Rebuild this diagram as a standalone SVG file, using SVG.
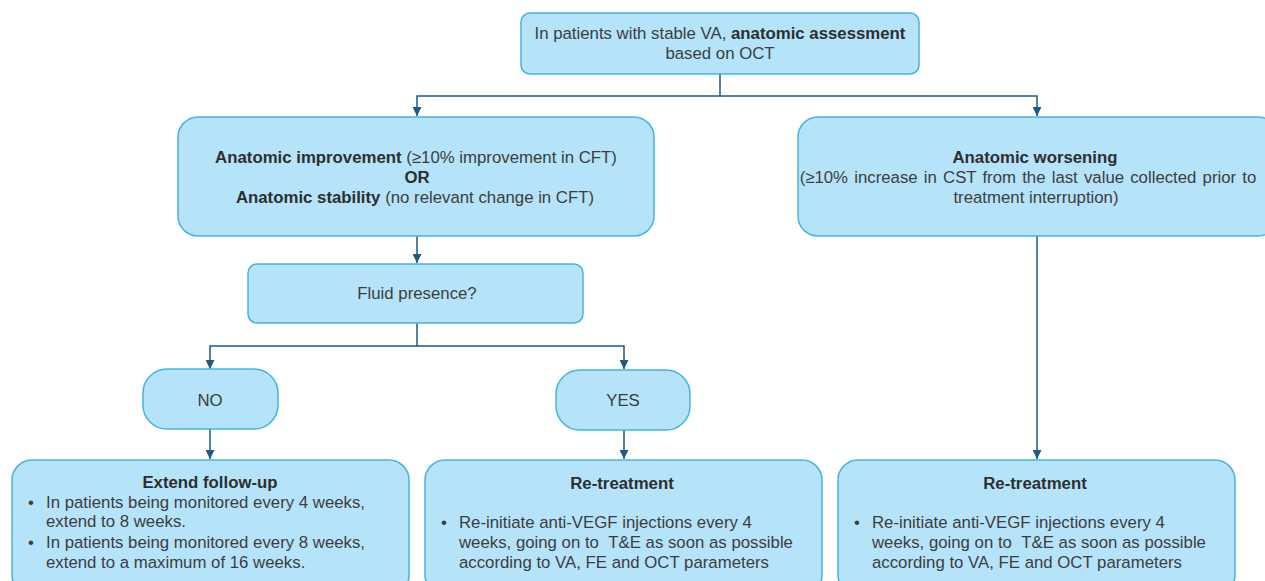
<svg xmlns="http://www.w3.org/2000/svg" width="1265" height="581" viewBox="0 0 1265 581">
<defs>
<marker id="arr" viewBox="0 0 10 10" refX="10" refY="5" markerWidth="9" markerHeight="9" markerUnits="userSpaceOnUse" orient="auto">
<path d="M0,0 L10,5 L0,10 z" fill="#1d5a86"/>
</marker>
<style>
.box{fill:#b5e3fa;stroke:#45b4dd;stroke-width:1.5}
.t{font-family:"Liberation Sans",Arial,sans-serif;font-size:16.8px;fill:#3d3d3d}
.c{text-anchor:middle}
.b{font-weight:bold;fill:#2e2e2e}
.con{fill:none;stroke:#1d5a86;stroke-width:1.5}
</style>
</defs>
<rect width="1265" height="581" fill="#ffffff"/>
<g id="connectors">
<path class="con" d="M720,74 V96 H417 V116" marker-end="url(#arr)"/>
<path class="con" d="M720,96 H1037 V116" marker-end="url(#arr)"/>
<path class="con" d="M417,236 V263" marker-end="url(#arr)"/>
<path class="con" d="M417,323 V346 H210 V369" marker-end="url(#arr)"/>
<path class="con" d="M417,346 H624 V369" marker-end="url(#arr)"/>
<path class="con" d="M210,429 V459" marker-end="url(#arr)"/>
<path class="con" d="M624,430 V459" marker-end="url(#arr)"/>
<path class="con" d="M1037,236 V459" marker-end="url(#arr)"/>
</g>
<g id="top">
<rect class="box" x="521" y="13" width="398" height="61" rx="9"/>
<text class="t c" x="720" y="39">In patients with stable VA, <tspan class="b">anatomic assessment</tspan></text>
<text class="t c" x="720" y="59">based on OCT</text>
</g>
<g id="improvement">
<rect class="box" x="178" y="117" width="476" height="119" rx="20"/>
<text class="t c" x="416" y="163"><tspan class="b">Anatomic improvement</tspan> (≥10% improvement in CFT)</text>
<text class="t c b" x="417" y="183">OR</text>
<text class="t c" x="415" y="203"><tspan class="b">Anatomic stability</tspan> (no relevant change in CFT)</text>
</g>
<g id="worsening">
<rect class="box" x="798" y="117" width="480" height="119" rx="20"/>
<text class="t c b" x="1035" y="163">Anatomic worsening</text>
<text class="t c" x="1028" y="183" style="word-spacing:1.5px">(≥10% increase in CST from the last value collected prior to</text>
<text class="t c" x="1036" y="203">treatment interruption)</text>
</g>
<g id="fluid">
<rect class="box" x="248" y="264" width="335" height="59" rx="9"/>
<text class="t c" x="417" y="299">Fluid presence?</text>
</g>
<g id="no">
<rect class="box" x="143" y="369" width="135" height="60" rx="24"/>
<text class="t c" x="210" y="406">NO</text>
</g>
<g id="yes">
<rect class="box" x="556" y="370" width="134" height="60" rx="24"/>
<text class="t c" x="623" y="406">YES</text>
</g>
<g id="extend">
<rect class="box" x="12" y="460" width="397" height="135" rx="20"/>
<text class="t c b" x="210" y="488">Extend follow-up</text>
<text class="t" x="28" y="508">•</text>
<text class="t" x="46" y="508">In patients being monitored every 4 weeks,</text>
<text class="t" x="46" y="527">extend to 8 weeks.</text>
<text class="t" x="28" y="548">•</text>
<text class="t" x="46" y="548">In patients being monitored every 8 weeks,</text>
<text class="t" x="46" y="568">extend to a maximum of 16 weeks.</text>
</g>
<g id="retreat1">
<rect class="box" x="425" y="460" width="397" height="135" rx="20"/>
<text class="t c b" x="622" y="489">Re-treatment</text>
<text class="t" x="441" y="528">•</text>
<text class="t" x="459" y="528">Re-initiate anti-VEGF injections every 4</text>
<text class="t" x="459" y="548">weeks, going on to &#160;T&amp;E as soon as possible</text>
<text class="t" x="459" y="568">according to VA, FE and OCT parameters</text>
</g>
<g id="retreat2">
<rect class="box" x="838" y="460" width="397" height="135" rx="20"/>
<text class="t c b" x="1035" y="489">Re-treatment</text>
<text class="t" x="854" y="528">•</text>
<text class="t" x="872" y="528">Re-initiate anti-VEGF injections every 4</text>
<text class="t" x="872" y="548">weeks, going on to &#160;T&amp;E as soon as possible</text>
<text class="t" x="872" y="568">according to VA, FE and OCT parameters</text>
</g>
</svg>
